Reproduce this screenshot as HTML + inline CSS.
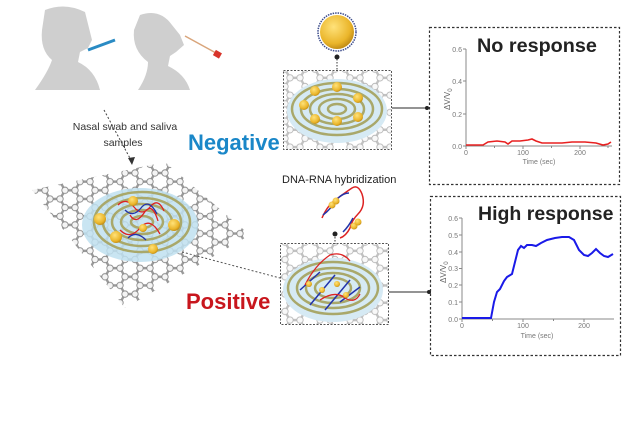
<!DOCTYPE html><html><head><style>
html,body{margin:0;padding:0;background:#fff;width:640px;height:448px;overflow:hidden}
text{font-family:"Liberation Sans",Arial,sans-serif}
</style></head><body>
<svg width="640" height="448" viewBox="0 0 640 448" xmlns="http://www.w3.org/2000/svg">
<defs>
<radialGradient id="gold" cx="0.4" cy="0.35" r="0.7"><stop offset="0" stop-color="#ffe27a"/><stop offset="0.7" stop-color="#eab52a"/><stop offset="1" stop-color="#b98412"/></radialGradient>
<pattern id="hex" width="30" height="17.3" patternUnits="userSpaceOnUse"><path d="M0 8.66 L5 0 L15 0 L20 8.66 L15 17.3 L5 17.3 Z M20 8.66 L30 8.66" fill="none" stroke="#9a9a9a" stroke-width="2.4"/><g fill="#f4f4f4" stroke="#888" stroke-width="0.9"><circle cx="5" cy="0" r="3.2"/><circle cx="15" cy="0" r="3.2"/><circle cx="0" cy="8.66" r="3.2"/><circle cx="20" cy="8.66" r="3.2"/><circle cx="30" cy="8.66" r="3.2"/><circle cx="5" cy="17.3" r="3.2"/><circle cx="15" cy="17.3" r="3.2"/></g></pattern>
<clipPath id="sheet"><polygon points="32,190 165,162 250,235 125,308"/></clipPath>
<clipPath id="nb"><rect x="284" y="71" width="107" height="78"/></clipPath>
<clipPath id="pb"><rect x="281" y="244" width="107" height="80"/></clipPath>
</defs>
<!-- people -->
<g fill="#cfcfcf">
<path d="M45 10 Q65 2 85 12 L92 40 L88 48 L80 52 L78 62 Q95 70 100 90 L35 90 Q48 72 52 60 Q40 50 42 30 Z"/>
<path d="M140 15 Q160 8 172 25 L180 35 L184 45 L176 52 L170 56 L168 66 Q185 74 190 90 L138 90 Q148 75 148 62 Q132 50 134 30 Z"/>
</g>
<line x1="88" y1="50" x2="115" y2="40" stroke="#2a8bc4" stroke-width="3"/>
<line x1="185" y1="36" x2="216" y2="53" stroke="#d9a57b" stroke-width="1.5"/>
<rect x="214" y="51" width="7" height="6" fill="#d8342a" transform="rotate(30 217 54)"/>
<!-- sample text -->
<text x="125" y="130" font-size="10.5" fill="#333" text-anchor="middle">Nasal swab and saliva</text>
<text x="123" y="146" font-size="10.5" fill="#333" text-anchor="middle">samples</text>
<path d="M104 110 L132 162" stroke="#444" stroke-width="1" stroke-dasharray="2,2" fill="none"/>
<path d="M128 158 L132 165 L135 157 Z" fill="#333"/>
<!-- graphene sheet -->
<g clip-path="url(#sheet)"><rect x="0" y="140" width="280" height="190" fill="url(#hex)"/></g>
<ellipse cx="140" cy="225" rx="58" ry="37" fill="#bfe0f0" opacity="0.85"/>
<g fill="none" stroke="#a9a86a" stroke-width="2.5">
<ellipse cx="142" cy="222" rx="48" ry="30"/><ellipse cx="142" cy="222" rx="39" ry="24"/><ellipse cx="142" cy="222" rx="30" ry="18"/><ellipse cx="142" cy="222" rx="21" ry="12"/><ellipse cx="142" cy="222" rx="11" ry="6"/>
</g>
<path d="M118 205 q8 -8 16 2 t16 0 t14 4 M120 230 q10 10 20 -2 t20 6 M130 215 q6 10 14 -2 t14 8" fill="none" stroke="#d22" stroke-width="1.3"/>
<path d="M125 210 q8 8 16 -2 t16 6 M128 238 q8 -8 18 2" fill="none" stroke="#23a" stroke-width="1.3"/>
<g fill="url(#gold)"><circle cx="100" cy="219" r="6"/><circle cx="116" cy="237" r="6"/><circle cx="153" cy="249" r="5"/><circle cx="174" cy="225" r="6"/><circle cx="133" cy="201" r="5"/><circle cx="143" cy="228" r="4"/></g>
<path d="M182 252 L280 278" stroke="#555" stroke-width="1" stroke-dasharray="2,2"/>
<!-- labels -->
<text x="188" y="150" font-size="22" font-weight="bold" fill="#1a87c8">Negative</text>
<text x="186" y="309" font-size="22" font-weight="bold" fill="#c8161d">Positive</text>
<text x="282" y="183" font-size="11" fill="#222">DNA-RNA hybridization</text>
<!-- gold ball -->
<circle cx="337" cy="32" r="19" fill="#fff" stroke="#3a4a8a" stroke-width="1.5" stroke-dasharray="1.5,1"/>
<circle cx="337" cy="32" r="17" fill="url(#gold)"/>
<line x1="337" y1="56" x2="337" y2="85" stroke="#333" stroke-dasharray="1.5,1.5"/>
<circle cx="337" cy="57" r="2.5" fill="#222"/>
<!-- negative box -->
<g clip-path="url(#nb)">
<rect x="284" y="71" width="107" height="78" fill="#fff"/>
<rect x="284" y="71" width="107" height="78" fill="url(#hex)" opacity="0.6"/>
<ellipse cx="337" cy="111" rx="50" ry="32" fill="#d6eaf4"/>
<g fill="none" stroke="#a9a86a" stroke-width="2.5"><ellipse cx="337" cy="109" rx="45" ry="26"/><ellipse cx="337" cy="109" rx="36" ry="20"/><ellipse cx="337" cy="109" rx="27" ry="15"/><ellipse cx="337" cy="109" rx="18" ry="10"/><ellipse cx="337" cy="109" rx="9" ry="5"/></g>
<g fill="url(#gold)"><circle cx="315" cy="91" r="5"/><circle cx="337" cy="87" r="5"/><circle cx="358" cy="98" r="5"/><circle cx="304" cy="105" r="5"/><circle cx="315" cy="119" r="5"/><circle cx="337" cy="121" r="5"/><circle cx="358" cy="117" r="5"/></g>
</g>
<rect x="283.5" y="70.5" width="108" height="79" fill="none" stroke="#555" stroke-dasharray="2,1.5"/>
<line x1="392" y1="108" x2="427" y2="108" stroke="#555" stroke-width="1.2"/><circle cx="427" cy="108" r="2" fill="#222"/>
<!-- DNA-RNA -->
<path d="M322 218 q6 -14 16 -20 q8 -6 14 -10 q6 -4 10 6 q4 12 -4 20 q-6 6 -8 14 q-4 8 -10 10" fill="none" stroke="#d22" stroke-width="1.5"/>
<path d="M323 215 q8 -6 14 -16 q6 -6 12 -6 M343 232 q6 -6 10 -14" fill="none" stroke="#23a" stroke-width="1.5"/>
<g fill="url(#gold)"><circle cx="332" cy="205" r="3.5"/><circle cx="336" cy="201" r="3.5"/><circle cx="354" cy="226" r="3.5"/><circle cx="358" cy="222" r="3.5"/></g>
<line x1="335" y1="234" x2="335" y2="258" stroke="#333" stroke-dasharray="1.5,1.5"/><circle cx="335" cy="234" r="2.5" fill="#222"/>
<!-- positive box -->
<g clip-path="url(#pb)">
<rect x="281" y="244" width="107" height="80" fill="#fff"/>
<rect x="281" y="244" width="107" height="80" fill="url(#hex)" opacity="0.6"/>
<ellipse cx="333" cy="290" rx="50" ry="32" fill="#d6eaf4"/>
<g fill="none" stroke="#a9a86a" stroke-width="2.5"><ellipse cx="333" cy="288" rx="45" ry="26"/><ellipse cx="333" cy="288" rx="36" ry="20"/><ellipse cx="333" cy="288" rx="27" ry="15"/><ellipse cx="333" cy="288" rx="18" ry="10"/></g>
<path d="M300 290 l20 -18 M310 305 l25 -30 M325 310 l25 -30 M340 302 l20 -15" stroke="#23a" stroke-width="1.5"/>
<path d="M305 285 q10 -20 25 -30 q12 -4 20 6 M320 300 q15 -10 25 -2 q10 6 15 -4" fill="none" stroke="#d22" stroke-width="1.3"/>
<g fill="url(#gold)"><circle cx="309" cy="284" r="3"/><circle cx="322" cy="290" r="3"/><circle cx="337" cy="284" r="3"/><circle cx="346" cy="295" r="3"/></g>
</g>
<rect x="280.5" y="243.5" width="108" height="81" fill="none" stroke="#555" stroke-dasharray="2,1.5"/>
<line x1="389" y1="292" x2="429" y2="292" stroke="#555" stroke-width="1.2"/><circle cx="429" cy="292" r="2" fill="#222"/>
<!-- chart boxes -->
<rect x="429.5" y="27.5" width="190" height="157" fill="none" stroke="#333" stroke-width="1.2" stroke-dasharray="2.5,2"/>
<rect x="430.5" y="196.5" width="190" height="159" fill="none" stroke="#333" stroke-width="1.2" stroke-dasharray="2.5,2"/>
<!-- chart 1 -->
<text x="477" y="52" font-size="19.8" font-weight="bold" fill="#222">No response</text>
<g stroke="#888" stroke-width="1" fill="none"><path d="M466 49 V146 H612"/><path d="M463 49 H466 M463 81 H466 M463 114 H466 M463 146 H466 M466 146 v3 M494.5 146 v2 M523 146 v3 M551.5 146 v2 M580 146 v3 M608 146 v2"/></g>
<g font-size="7" fill="#777" text-anchor="end"><text x="462" y="52">0.6</text><text x="462" y="84">0.4</text><text x="462" y="117">0.2</text><text x="462" y="149">0.0</text></g>
<g font-size="7" fill="#777" text-anchor="middle"><text x="466" y="155">0</text><text x="523" y="155">100</text><text x="580" y="155">200</text><text x="539" y="164">Time (sec)</text></g>
<text transform="translate(450,110) rotate(-90)" font-size="8" fill="#666">ΔV/V<tspan font-size="6" dy="2">0</tspan></text>
<path d="M466 145 L483 145 L488 142 L497 141 L505 142 L508 144 L512 141 L520 141 L528 140 L532 139 L536 141 L542 143 L552 143 L562 143 L572 142 L585 142 L596 143 L603 145 L608 144 L611 142" fill="none" stroke="#e82020" stroke-width="1.6"/>
<!-- chart 2 -->
<text x="478" y="220" font-size="19.5" font-weight="bold" fill="#222">High response</text>
<g stroke="#888" stroke-width="1" fill="none"><path d="M462 218 V319 H614"/><path d="M459 218 H462 M459 235 H462 M459 252 H462 M459 268.5 H462 M459 285 H462 M459 302 H462 M459 319 H462 M462 319 v3 M492.5 319 v2 M523 319 v3 M553.5 319 v2 M584 319 v3"/></g>
<g font-size="7" fill="#777" text-anchor="end"><text x="458" y="221">0.6</text><text x="458" y="238">0.5</text><text x="458" y="255">0.4</text><text x="458" y="271">0.3</text><text x="458" y="288">0.2</text><text x="458" y="305">0.1</text><text x="458" y="322">0.0</text></g>
<g font-size="7" fill="#777" text-anchor="middle"><text x="462" y="328">0</text><text x="523" y="328">100</text><text x="584" y="328">200</text><text x="537" y="338">Time (sec)</text></g>
<text transform="translate(446,283) rotate(-90)" font-size="8" fill="#666">ΔV/V<tspan font-size="6" dy="2">0</tspan></text>
<path d="M462 318 L486 318 L491 318 L494 302 L497 292 L500 289 L504 281 L507 277 L512 274 L515 262 L518 250 L521 246 L524 248 L527 245 L532 245 L536 246 L541 243 L547 240 L555 238 L562 237 L569 237 L574 240 L579 250 L584 255 L588 256 L592 253 L596 249 L600 253 L604 256 L608 257 L613 254 L613 254" fill="none" stroke="#1a1ae8" stroke-width="2"/>
</svg>
</body></html>
